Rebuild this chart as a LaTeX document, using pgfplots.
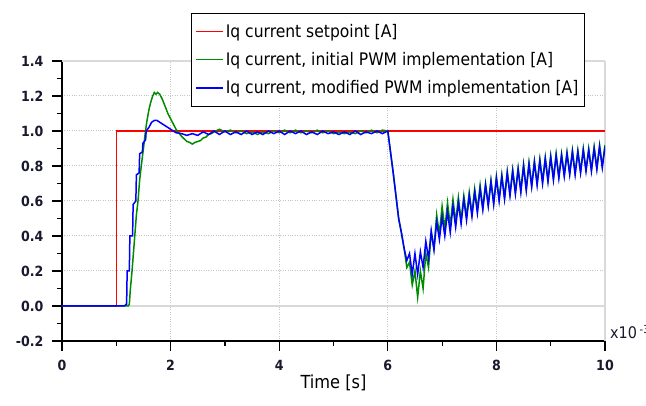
\documentclass[border=0pt]{standalone}
\usepackage{pgfplots}
\pgfplotsset{compat=1.18}
\usepackage{fontspec}
\setmainfont{DejaVu Sans Condensed}
\definecolor{pgreen}{RGB}{0,140,0}
\definecolor{pblue}{RGB}{0,0,255}
\definecolor{pred}{RGB}{255,0,0}
\definecolor{ticklab}{RGB}{25,25,45}
\begin{document}
\begin{tikzpicture}
\begin{axis}[
    width=543pt, height=280pt, scale only axis,
    xmin=0, xmax=10, ymin=-0.2, ymax=1.4,
    xtick={0,2,4,6,8,10},
    ytick={-0.2,0,0.2,0.4,0.6,0.8,1.0,1.2,1.4},
    minor x tick num=1, minor y tick num=1,
    axis x line*=bottom, axis y line*=left,
    axis line style={-, black, line width=1.2pt},
    tick align=outside,
    major tick length=10pt, minor tick length=5pt,
    tick style={black, line width=1.2pt},
    grid=major,
    major grid style={gray!45, dotted, line width=1pt},
    extra y ticks={0,1.4}, extra y tick labels={},
    extra x ticks={10}, extra x tick labels={},
    extra tick style={major grid style={gray!30, solid, line width=1.2pt}},
    /pgf/number format/assume math mode=true,
    ticklabel style={font=\bfseries\fontsize{14}{14}\selectfont, text=ticklab},
    yticklabel style={xshift=-5pt, /pgf/number format/.cd, fixed, fixed zerofill, precision=1},
    xticklabel style={yshift=-6pt},
    xlabel={Time [s]},
    xlabel style={font=\fontsize{18}{18}\selectfont, anchor=center, at={(axis description cs:0.5,-0.15)}},
    legend style={at={(axis description cs:0.2376,1.1725)}, anchor=north west,
        draw=black, line width=1.2pt, fill=white,
        font=\fontsize{17.3}{17.3}\selectfont,
        inner xsep=4pt, inner ysep=9pt, row sep=9.5pt,
        nodes={inner sep=2pt}},
    legend cell align=left,
    legend image code/.code={\draw[#1, line width=1.2pt] (0pt,0pt) -- (27pt,0pt);},
]
\addplot[color=pred, line width=1.1pt] coordinates {
    (0,0) (1,0) (1,1.0) (10,1.0)
};
\addlegendentry{Iq current setpoint [A]}
\addplot[color=pgreen, line width=1.5pt] coordinates {
    (0,0) (1.22,0) (1.24,0.01) (1.26,0.10) (1.29,0.20) (1.32,0.32) (1.34,0.40)
    (1.37,0.52) (1.40,0.60) (1.43,0.72) (1.46,0.80) (1.50,0.90) (1.53,0.98)
    (1.56,1.05) (1.60,1.12) (1.63,1.16) (1.67,1.20) (1.70,1.22) (1.73,1.21)
    (1.76,1.22) (1.80,1.21) (1.85,1.18) (1.90,1.14) (1.95,1.10) (2.00,1.07)
    (2.05,1.04) (2.10,1.01) (2.15,0.99) (2.20,0.97) (2.25,0.955) (2.30,0.94)
    (2.35,0.935) (2.40,0.925) (2.45,0.935) (2.50,0.94) (2.55,0.945) (2.60,0.96)
    (2.65,0.965) (2.70,0.98) (2.75,0.985) (2.80,0.995) (2.90,1.01) (3.00,0.995)
    (3.10,1.005) (3.20,0.99) (3.30,1.0) (3.40,0.985) (3.50,0.995) (3.60,0.98)
    (3.70,0.995) (3.80,0.985) (3.90,1.0) (4.00,0.99) (4.10,1.005) (4.20,0.99)
    (4.30,1.005) (4.40,0.99) (4.50,1.0) (4.60,0.99) (4.70,1.005) (4.80,0.99)
    (4.90,1.0) (5.00,0.985) (5.10,0.995) (5.20,0.985) (5.30,0.995) (5.40,0.985)
    (5.50,1.0) (5.60,0.99) (5.70,1.005) (5.80,0.99) (5.90,1.005) (6.00,1.0)
    (6.05,0.88) (6.10,0.76) (6.15,0.63) (6.20,0.50) (6.25,0.42)
    (6.30,0.33) (6.35,0.22) (6.40,0.25) (6.45,0.12) (6.50,0.20) (6.55,0.05)
    (6.60,0.20) (6.65,0.10) (6.70,0.30) (6.75,0.22) (6.80,0.42) (6.85,0.33)
    (6.90,0.52) (6.95,0.41) (7.00,0.57) (7.05,0.44) (7.10,0.59) (7.15,0.46)
    (7.20,0.61) (7.25,0.48) (7.30,0.62) (7.35,0.49) (7.40,0.63) (7.45,0.51)
    (7.50,0.65) (7.55,0.53) (7.60,0.67) (7.65,0.55) (7.70,0.69) (7.75,0.56)
    (7.80,0.70) (7.85,0.58) (7.90,0.72) (7.95,0.59) (8.00,0.74) (8.05,0.61)
    (8.10,0.75) (8.15,0.62) (8.20,0.77) (8.25,0.64) (8.30,0.78) (8.35,0.65)
    (8.40,0.79) (8.45,0.66) (8.50,0.81) (8.55,0.67) (8.60,0.82) (8.65,0.69)
    (8.70,0.83) (8.75,0.70) (8.80,0.84) (8.85,0.71) (8.90,0.85) (8.95,0.72)
    (9.00,0.86) (9.05,0.73) (9.10,0.87) (9.15,0.74) (9.20,0.87) (9.25,0.75)
    (9.30,0.88) (9.35,0.76) (9.40,0.89) (9.45,0.76) (9.50,0.89) (9.55,0.77)
    (9.60,0.90) (9.65,0.78) (9.70,0.90) (9.75,0.78) (9.80,0.91) (9.85,0.79)
    (9.90,0.92) (9.95,0.80) (10.00,0.92)
};
\addlegendentry{Iq current, initial PWM implementation [A]}
\addplot[color=pblue, line width=1.5pt] coordinates {
    (0,0) (1.15,0) (1.18,0.01) (1.19,0.01) (1.20,0.20) (1.24,0.20) (1.25,0.40)
    (1.30,0.40) (1.31,0.58) (1.36,0.60) (1.37,0.75) (1.42,0.76) (1.43,0.87)
    (1.48,0.88) (1.49,0.93) (1.54,0.95) (1.55,1.00) (1.60,1.02) (1.65,1.05)
    (1.70,1.06) (1.75,1.06) (1.80,1.05) (1.85,1.04) (1.90,1.03) (1.95,1.02)
    (2.00,1.01) (2.05,1.00) (2.10,0.99) (2.20,0.985) (2.30,0.975) (2.40,0.985)
    (2.50,0.975) (2.60,0.995) (2.70,0.98) (2.80,1.0) (2.90,0.98) (3.00,1.0)
    (3.10,0.98) (3.20,0.995) (3.30,0.98) (3.40,1.0) (3.50,0.98) (3.60,0.995)
    (3.70,0.98) (3.80,1.0) (3.90,0.985) (4.00,1.0) (4.10,0.98) (4.20,1.0)
    (4.30,0.985) (4.40,1.0) (4.50,0.98) (4.60,0.995) (4.70,0.98) (4.80,1.0)
    (4.90,0.985) (5.00,0.995) (5.10,0.98) (5.20,0.995) (5.30,0.98) (5.40,1.0)
    (5.50,0.98) (5.60,0.995) (5.70,0.985) (5.80,1.0) (5.90,0.985) (6.00,1.0)
    (6.05,0.88) (6.10,0.76) (6.15,0.63) (6.20,0.50) (6.25,0.42) (6.30,0.33)
    (6.35,0.26) (6.40,0.30) (6.45,0.18) (6.50,0.30) (6.55,0.18) (6.60,0.31)
    (6.65,0.22) (6.70,0.37) (6.75,0.27) (6.80,0.43) (6.85,0.32) (6.90,0.48)
    (6.95,0.38) (7.00,0.51) (7.05,0.40) (7.10,0.54) (7.15,0.42) (7.20,0.57)
    (7.25,0.45) (7.30,0.59) (7.35,0.47) (7.40,0.61) (7.45,0.49) (7.50,0.63)
    (7.55,0.51) (7.60,0.65) (7.65,0.53) (7.70,0.67) (7.75,0.55) (7.80,0.69)
    (7.85,0.57) (7.90,0.71) (7.95,0.58) (8.00,0.73) (8.05,0.60) (8.10,0.74)
    (8.15,0.61) (8.20,0.76) (8.25,0.63) (8.30,0.77) (8.35,0.64) (8.40,0.78)
    (8.45,0.65) (8.50,0.80) (8.55,0.66) (8.60,0.81) (8.65,0.68) (8.70,0.82)
    (8.75,0.69) (8.80,0.83) (8.85,0.70) (8.90,0.84) (8.95,0.71) (9.00,0.85)
    (9.05,0.72) (9.10,0.86) (9.15,0.73) (9.20,0.86) (9.25,0.74) (9.30,0.87)
    (9.35,0.75) (9.40,0.88) (9.45,0.75) (9.50,0.88) (9.55,0.76) (9.60,0.89)
    (9.65,0.77) (9.70,0.89) (9.75,0.77) (9.80,0.90) (9.85,0.78) (9.90,0.91)
    (9.95,0.79) (10.00,0.91)
};
\addlegendentry{Iq current, modified PWM implementation [A]}
\end{axis}
\node[anchor=west, inner sep=0pt, font=\fontsize{16}{16}\selectfont, text=ticklab]
    at (548pt,9pt) {x10\,\raisebox{0.6ex}{\fontsize{11}{11}\selectfont -3}};
\pgfresetboundingbox
\path[use as bounding box] (-62pt,-65pt) rectangle (584pt,341pt);
\end{tikzpicture}
\end{document}
